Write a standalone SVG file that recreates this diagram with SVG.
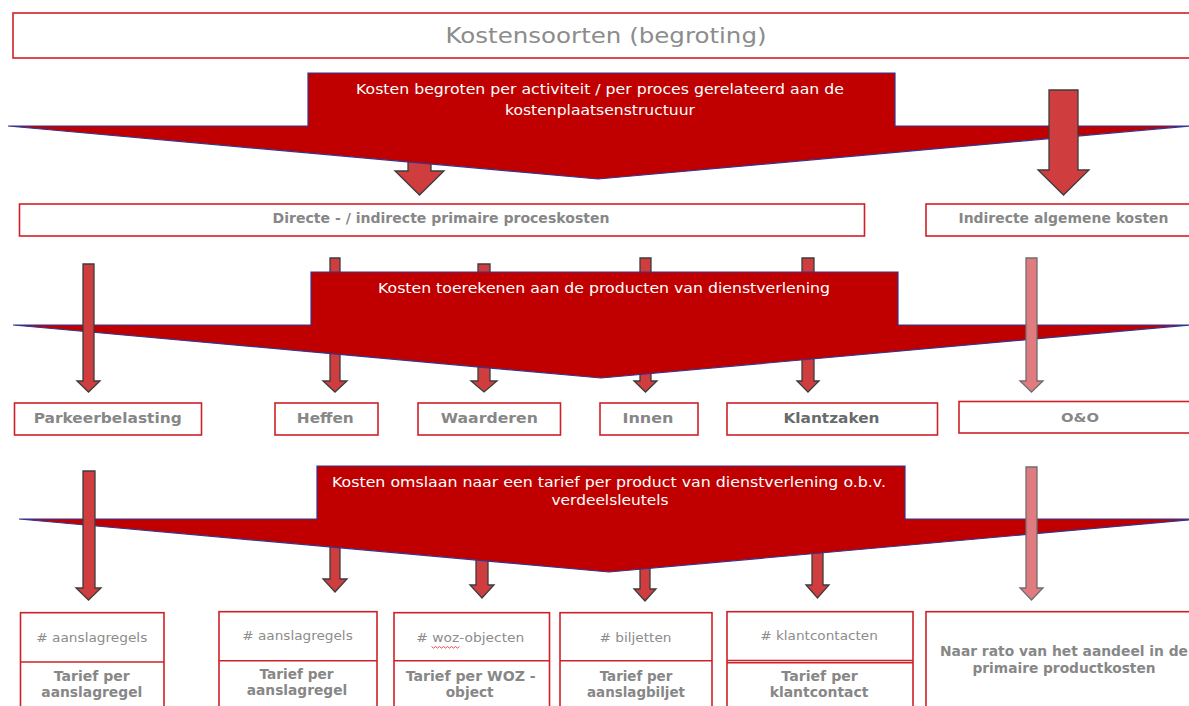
<svg xmlns="http://www.w3.org/2000/svg" width="1189" height="706" viewBox="0 0 1189 706">
<style>
.box{fill:#fff;stroke:#cf2027;stroke-width:1.6}
.div{stroke:#cf2027;stroke-width:1.6;fill:none}
.big{fill:#c00000;stroke:#35358f;stroke-width:1.2;stroke-linejoin:miter}
.sa{fill:#cf3d3f;stroke:#3c3c3c;stroke-width:1.3}
.pa{fill:#e07c80;stroke:#6e6e6e;stroke-width:1.3}
text{font-family:"DejaVu Sans","Liberation Sans",sans-serif;text-anchor:middle}
.t{font-size:22px;fill:#8c8c8c}
.w{font-size:13.5px;fill:#ffffff}
.b{font-size:13.5px;font-weight:bold;fill:#878787}
.r{font-size:13px;fill:#8c8c8c}
</style>

<g id="title">
<rect class="box" x="13" y="13" width="1185" height="45"/>
<text class="t" x="606" y="43" textLength="321" lengthAdjust="spacingAndGlyphs">Kostensoorten (begroting)</text>
</g>

<g id="connectors-behind">
<path class="sa" d="M408,150 L431,150 L431,171 L444,171 L419.5,195 L395,171 L408,171 Z"/>
<path class="sa" d="M330,258 L340,258 L340,381 L347,381 L335,392 L323,381 L330,381 Z"/>
<path class="sa" d="M478,264 L490,264 L490,381 L497,381 L484,392 L471,381 L478,381 Z"/>
<path class="sa" d="M640,258 L651,258 L651,381 L657,381 L645.5,392 L634,381 L640,381 Z"/>
<path class="sa" d="M802,258 L814,258 L814,381 L819,381 L808,392 L797,381 L802,381 Z"/>
<path class="sa" d="M330,540 L340,540 L340,579 L347,579 L335,592 L323,579 L330,579 Z"/>
<path class="sa" d="M476,550 L488,550 L488,585 L494,585 L482,598 L470,585 L476,585 Z"/>
<path class="sa" d="M640,550 L650,550 L650,589 L656,589 L645,601 L634,589 L640,589 Z"/>
<path class="sa" d="M812,540 L823,540 L823,585 L829,585 L817.5,598 L806,585 L812,585 Z"/>
</g>

<g id="stap-begroten">
<polygon class="big" points="308,73 895,73 895,126 1190,126 598,179 8,126 308,126"/>
<text class="w" x="600" y="94" textLength="488" lengthAdjust="spacingAndGlyphs">Kosten begroten per activiteit / per proces gerelateerd aan de</text>
<text class="w" x="600" y="115" textLength="190" lengthAdjust="spacingAndGlyphs">kostenplaatsenstructuur</text>
</g>

<g id="stap-toerekenen">
<polygon class="big" points="311,272 898,272 898,325 1190,325 601,378 13,325 311,325"/>
<text class="w" x="604" y="293" textLength="452" lengthAdjust="spacingAndGlyphs">Kosten toerekenen aan de producten van dienstverlening</text>
</g>

<g id="stap-omslaan">
<polygon class="big" points="317,466 905,466 905,519 1199,519 609,572 19,519 317,519"/>
<text class="w" x="609" y="487" textLength="554" lengthAdjust="spacingAndGlyphs">Kosten omslaan naar een tarief per product van dienstverlening o.b.v.</text>
<text class="w" x="610" y="505" textLength="117" lengthAdjust="spacingAndGlyphs">verdeelsleutels</text>
</g>

<g id="connectors-front">
<path class="sa" d="M1049,90 L1078,90 L1078,170 L1089,170 L1063.5,195 L1038,170 L1049,170 Z"/>
<path class="sa" d="M83,264 L94,264 L94,381 L100,381 L88.5,392 L77,381 L83,381 Z"/>
<path class="pa" d="M1026,258 L1037,258 L1037,381 L1043,381 L1031.5,392 L1020,381 L1026,381 Z"/>
<path class="sa" d="M83,471 L95,471 L95,588 L101,588 L88.5,600 L76,588 L83,588 Z"/>
<path class="pa" d="M1026,467 L1037,467 L1037,588 L1043,588 L1031.5,600 L1020,588 L1026,588 Z"/>
</g>

<g id="directe">
<rect class="box" x="19.5" y="204" width="845" height="32"/>
<text class="b" x="441" y="223" textLength="337" lengthAdjust="spacingAndGlyphs">Directe - / indirecte primaire proceskosten</text>
</g>
<g id="indirecte">
<rect class="box" x="926" y="204" width="270" height="32"/>
<text class="b" x="1063.5" y="223" textLength="210" lengthAdjust="spacingAndGlyphs">Indirecte algemene kosten</text>
</g>

<g id="parkeerbelasting">
<rect class="box" x="14.5" y="403" width="187" height="32"/>
<text class="b" x="107.7" y="423.3" textLength="148" lengthAdjust="spacingAndGlyphs">Parkeerbelasting</text>
</g>
<g id="heffen">
<rect class="box" x="275" y="403" width="103" height="32"/>
<text class="b" x="325.3" y="423.3" textLength="57" lengthAdjust="spacingAndGlyphs">Heffen</text>
</g>
<g id="waarderen">
<rect class="box" x="418" y="403" width="142.5" height="32"/>
<text class="b" x="489.3" y="423.3" textLength="97" lengthAdjust="spacingAndGlyphs">Waarderen</text>
</g>
<g id="innen">
<rect class="box" x="600" y="403" width="98" height="32"/>
<text class="b" x="648" y="423.3" textLength="51" lengthAdjust="spacingAndGlyphs">Innen</text>
</g>
<g id="klantzaken">
<rect class="box" x="727" y="403" width="210.5" height="32"/>
<text class="b" x="831.5" y="423.3" textLength="96" lengthAdjust="spacingAndGlyphs" style="fill:#6a6a6a">Klantzaken</text>
</g>
<g id="oeno">
<rect class="box" x="959" y="401.5" width="240" height="31.5"/>
<text class="b" x="1080" y="421.7" textLength="38" lengthAdjust="spacingAndGlyphs" style="font-size:12.5px">O&amp;O</text>
</g>

<g id="tarief-parkeer">
<rect class="box" x="20.5" y="612.7" width="143.5" height="110"/>
<line class="div" x1="20.5" y1="662" x2="164" y2="662"/>
<text class="r" x="91.8" y="641.7" textLength="111" lengthAdjust="spacingAndGlyphs"># aanslagregels</text>
<text class="b" x="91.8" y="681" textLength="76" lengthAdjust="spacingAndGlyphs">Tarief per</text>
<text class="b" x="91.8" y="696.7" textLength="101" lengthAdjust="spacingAndGlyphs">aanslagregel</text>
</g>
<g id="tarief-heffen">
<rect class="box" x="219" y="611.7" width="158" height="110"/>
<line class="div" x1="219" y1="660.7" x2="377" y2="660.7"/>
<text class="r" x="297.5" y="640" textLength="110.5" lengthAdjust="spacingAndGlyphs"># aanslagregels</text>
<text class="b" x="296.5" y="679" textLength="74" lengthAdjust="spacingAndGlyphs">Tarief per</text>
<text class="b" x="297" y="695" textLength="100.5" lengthAdjust="spacingAndGlyphs">aanslagregel</text>
</g>
<g id="tarief-waarderen">
<rect class="box" x="394" y="612.7" width="155.5" height="110"/>
<line class="div" x1="394" y1="660.7" x2="549.5" y2="660.7"/>
<text class="r" x="470.3" y="641.7" textLength="108" lengthAdjust="spacingAndGlyphs"># woz-objecten</text>
<path d="M431.5,646.5 l2,1.6 l2,-1.6 l2,1.6 l2,-1.6 l2,1.6 l2,-1.6 l2,1.6 l2,-1.6 l2,1.6 l2,-1.6 l2,1.6 l2,-1.6 l2,1.6 l2,-1.6" fill="none" stroke="#e23a3a" stroke-width="0.9"/>
<text class="b" x="470.7" y="681" textLength="130" lengthAdjust="spacingAndGlyphs">Tarief per WOZ -</text>
<text class="b" x="469.7" y="696.7" textLength="48" lengthAdjust="spacingAndGlyphs">object</text>
</g>
<g id="tarief-innen">
<rect class="box" x="560" y="612.7" width="152" height="110"/>
<line class="div" x1="560" y1="660.7" x2="712" y2="660.7"/>
<text class="r" x="635.5" y="641.7" textLength="72" lengthAdjust="spacingAndGlyphs"># biljetten</text>
<text class="b" x="636" y="681" textLength="72.7" lengthAdjust="spacingAndGlyphs">Tarief per</text>
<text class="b" x="636" y="696.7" textLength="98" lengthAdjust="spacingAndGlyphs">aanslagbiljet</text>
</g>
<g id="tarief-klantzaken">
<rect class="box" x="727" y="611.7" width="186" height="110"/>
<line class="div" x1="727" y1="660.5" x2="913" y2="660.5"/>
<line class="div" x1="727" y1="662.7" x2="913" y2="662.7"/>
<text class="r" x="819" y="640" textLength="117.5" lengthAdjust="spacingAndGlyphs"># klantcontacten</text>
<text class="b" x="819.6" y="681" textLength="76.5" lengthAdjust="spacingAndGlyphs">Tarief per</text>
<text class="b" x="819" y="696.7" textLength="98.7" lengthAdjust="spacingAndGlyphs">klantcontact</text>
</g>
<g id="naar-rato">
<rect class="box" x="926" y="611.7" width="270" height="110"/>
<text class="b" x="1064" y="655.7" textLength="248" lengthAdjust="spacingAndGlyphs">Naar rato van het aandeel in de</text>
<text class="b" x="1064" y="672.7" textLength="183" lengthAdjust="spacingAndGlyphs">primaire productkosten</text>
</g>
</svg>
